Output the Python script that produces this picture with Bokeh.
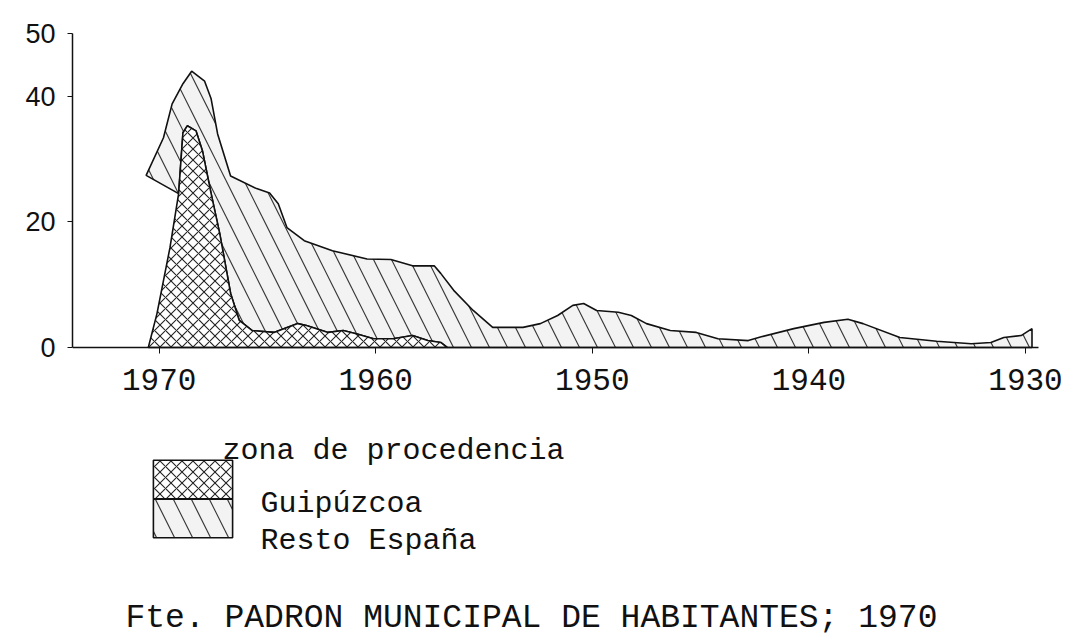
from bokeh.plotting import figure
from bokeh.models import Range1d, FixedTicker, BasicTickFormatter, Legend, LegendItem, Label
from bokeh.embed import file_html
from bokeh.resources import INLINE

# --- data ---
years_guip = [1970.5, 1970.1, 1969.5, 1969.1, 1968.9, 1968.7, 1968.3, 1968.0, 1967.6,
              1967.2, 1966.7, 1966.3, 1965.7, 1964.7, 1963.6, 1963.2, 1962.2, 1961.5,
              1960.9, 1960.1, 1959.2, 1958.3, 1957.6, 1957.0, 1956.7]
guipuzcoa = [0.0, 5.4, 15.9, 24.5, 34.2, 35.3, 34.5, 31.3, 24.5,
             18.1, 8.6, 4.3, 2.7, 2.4, 3.8, 3.5, 2.4, 2.7,
             2.2, 1.4, 1.4, 1.9, 1.1, 0.8, 0.0]

years_total = [1970.6, 1969.8, 1969.4, 1968.9, 1968.5, 1967.9, 1967.6, 1967.3, 1966.7,
               1965.5, 1964.9, 1964.5, 1964.1, 1963.3, 1962.0, 1960.4, 1959.3, 1958.3,
               1957.3, 1957.0, 1956.4, 1955.5, 1954.6, 1953.2, 1952.4, 1951.6, 1950.9,
               1950.4, 1949.8, 1948.8, 1948.2, 1947.5, 1946.4, 1945.2, 1944.2, 1942.8,
               1942.2, 1940.7, 1939.3, 1938.2, 1937.5, 1935.8, 1934.1, 1932.5, 1931.6,
               1931.0, 1930.2, 1929.7]
resto_top = [27.4, 33.4, 38.8, 42.0, 44.0, 42.4, 39.6, 34.0, 27.3,
             25.3, 24.6, 22.9, 19.1, 17.0, 15.4, 14.1, 14.0, 13.0,
             13.0, 11.8, 9.1, 5.9, 3.2, 3.2, 3.8, 5.1, 6.7,
             7.0, 5.9, 5.6, 5.1, 3.8, 2.7, 2.4, 1.4, 1.1,
             1.7, 3.0, 4.0, 4.5, 3.8, 1.6, 1.0, 0.6, 0.8,
             1.6, 1.9, 3.0]

x_ticks = [1970, 1960, 1950, 1940, 1930]
y_ticks = [0, 20, 40, 50]

legend_title = "zona de procedencia"
series_labels = ["Guipúzcoa", "Resto España"]
source_text = "Fte. PADRON MUNICIPAL DE HABITANTES; 1970"

# --- figure ---
# the frame reaches to the bottom/right of the page so the legend, the source
# note and the last tick label (all outside the plotted area) are not clipped
p = figure(width=1072, height=640,
           x_range=Range1d(1974.0, 1927.83), y_range=Range1d(-46.66, 50),
           output_backend="svg", toolbar_location=None,
           min_border_left=72, min_border_right=0,
           min_border_top=33, min_border_bottom=0)
p.background_fill_color = "white"
p.border_fill_color = "white"
p.outline_line_color = None
p.xgrid.visible = False
p.ygrid.visible = False

# Resto España band: top curve, then back along the Guipúzcoa curve
k = 3
lower_x = years_guip[k:][::-1]
lower_y = guipuzcoa[k:][::-1]
rx = years_total + [years_total[-1]] + lower_x
ry = resto_top + [0.0] + lower_y

r = p.patch(rx, ry, fill_color="#f3f3f3", line_color="#111111", line_width=1.6,
            hatch_pattern="\\", hatch_scale=36, hatch_weight=1.2, hatch_color="#3a3a3a")
g = p.patch(years_guip, guipuzcoa, fill_color="white", line_color="#111111", line_width=1.6,
            hatch_pattern="x", hatch_scale=11, hatch_weight=1.1, hatch_color="#222222")

# --- axes ---
p.xaxis.fixed_location = 0
p.xaxis.bounds = (1929.4, 1974.0)
p.xaxis.ticker = FixedTicker(ticks=x_ticks)
p.xaxis.formatter = BasicTickFormatter(use_scientific=False)
p.xaxis.major_label_text_font = "Liberation Mono"
p.xaxis.major_label_text_font_size = "31px"
p.xaxis.major_label_text_color = "#111111"
p.xaxis.major_tick_out = 6
p.xaxis.major_tick_in = 0
p.xaxis.minor_tick_out = 0
p.xaxis.minor_tick_in = 0
p.xaxis.major_label_standoff = 16
p.xaxis.axis_line_width = 1.5
p.xaxis.axis_line_color = "#111111"
p.xaxis.major_tick_line_color = "#111111"

p.yaxis.bounds = (0, 50)
p.yaxis.ticker = FixedTicker(ticks=y_ticks)
p.yaxis.major_label_text_font = "Liberation Sans"
p.yaxis.major_label_text_font_size = "27px"
p.yaxis.major_label_text_color = "#111111"
p.yaxis.major_tick_out = 5
p.yaxis.major_tick_in = 0
p.yaxis.minor_tick_out = 0
p.yaxis.minor_tick_in = 0
p.yaxis.major_label_standoff = 12
p.yaxis.axis_line_width = 1.5
p.yaxis.axis_line_color = "#111111"
p.yaxis.major_tick_line_color = "#111111"

# --- legend: stacked swatches (two single-entry legends so they touch);
#     the entry texts sit lower than the swatch centres, as in the original ---
common = dict(orientation="vertical", glyph_width=99, glyph_height=48, spacing=0,
              padding=0, margin=0, border_line_color=None, background_fill_alpha=0,
              label_standoff=0, label_width=0, label_height=48,
              label_text_font_size="1px")
leg1 = Legend(items=[LegendItem(label="", renderers=[g])], location=(71, 136.8), **common)
leg2 = Legend(items=[LegendItem(label="", renderers=[r])], location=(71, 98.4), **common)
p.add_layout(leg1, "center")
p.add_layout(leg2, "center")

txt = dict(x_units="screen", y_units="screen", text_font="Liberation Mono",
           text_color="#111111", text_baseline="alphabetic")
p.add_layout(Label(x=150, y=190, text=legend_title, text_font_size="30px", **txt))
p.add_layout(Label(x=188, y=137, text=series_labels[0], text_font_size="30px", **txt))
p.add_layout(Label(x=188, y=100, text=series_labels[1], text_font_size="30px", **txt))
p.add_layout(Label(x=53, y=22, text=source_text, text_font_size="33px", **txt))

open("out.html", "w").write(file_html(p, INLINE))
